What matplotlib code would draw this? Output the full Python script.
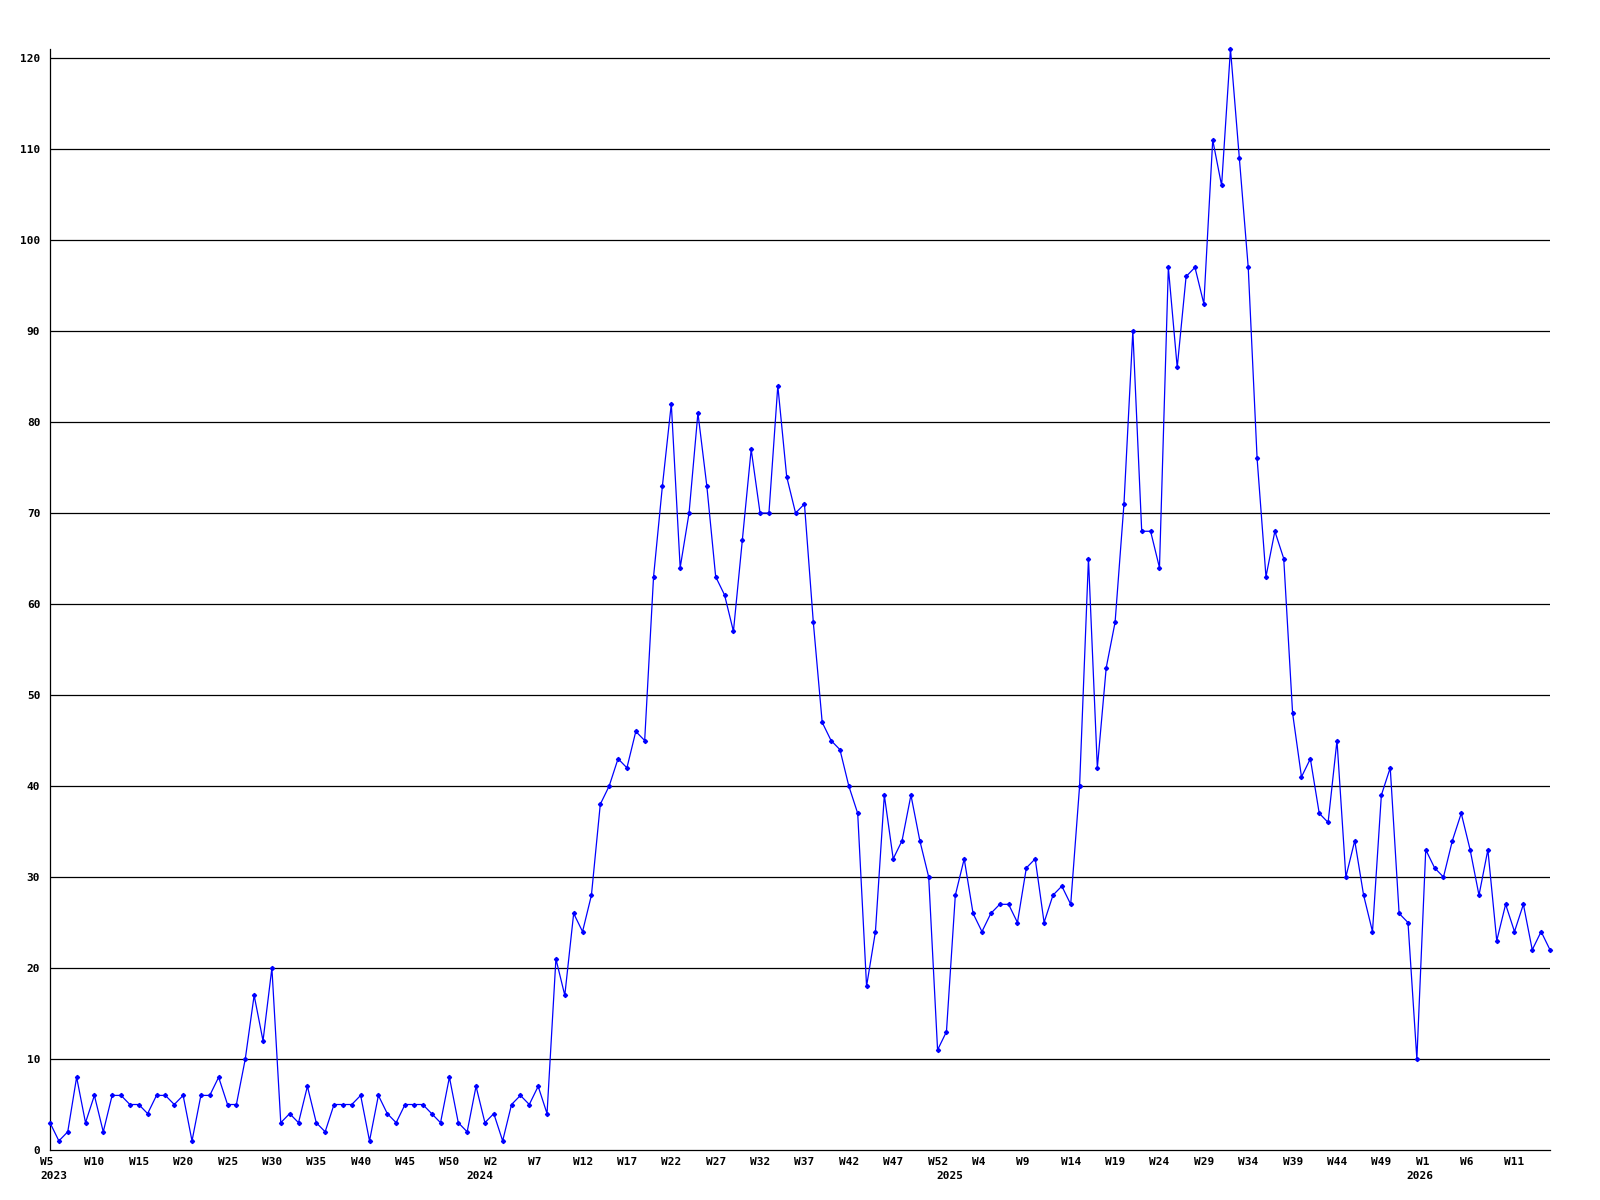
import matplotlib
matplotlib.use("Agg")
import matplotlib.pyplot as plt
from matplotlib.transforms import ScaledTranslation, blended_transform_factory

# weekly values, 2023 W5 .. 2026 W14
counts = [3, 1, 2, 8, 3, 6, 2, 6, 6, 5, 5, 4, 6, 6, 5, 6, 1, 6, 6, 8,
          5, 5, 10, 17, 12, 20, 3, 4, 3, 7, 3, 2, 5, 5, 5, 6, 1, 6, 4, 3,
          5, 5, 5, 4, 3, 8, 3, 2, 7, 3, 4, 1, 5, 6, 5, 7, 4, 21, 17, 26,
          24, 28, 38, 40, 43, 42, 46, 45, 63, 73, 82, 64, 70, 81, 73, 63, 61, 57, 67, 77,
          70, 70, 84, 74, 70, 71, 58, 47, 45, 44, 40, 37, 18, 24, 39, 32, 34, 39, 34, 30,
          11, 13, 28, 32, 26, 24, 26, 27, 27, 25, 31, 32, 25, 28, 29, 27, 40, 65, 42, 53,
          58, 71, 90, 68, 68, 64, 97, 86, 96, 97, 93, 111, 106, 121, 109, 97, 76, 63, 68, 65,
          48, 41, 43, 37, 36, 45, 30, 34, 28, 24, 39, 42, 26, 25, 10, 33, 31, 30, 34, 37,
          33, 28, 33, 23, 27, 24, 27, 22, 24, 22]

# x labels every 5 weeks
week_labels = ["W5", "W10", "W15", "W20", "W25", "W30", "W35", "W40", "W45", "W50",
               "W2", "W7", "W12", "W17", "W22", "W27", "W32", "W37", "W42", "W47", "W52",
               "W4", "W9", "W14", "W19", "W24", "W29", "W34", "W39", "W44", "W49",
               "W1", "W6", "W11"]
years = ["2023", "2024", "2025", "2026"]
year_start = [0, 48, 101, 154]  # index of first week of each year

y_ticks = list(range(0, 121, 10))

font = {"family": "DejaVu Sans Mono", "weight": "bold", "size": 8}

fig = plt.figure(figsize=(16, 12), dpi=100)
ax = fig.add_axes([50 / 1600, 1 - 1150 / 1200, 1500 / 1600, (1150 - 49) / 1200])

x = list(range(len(counts)))
ax.plot(x, counts, color="#0000ff", lw=0.9, marker="D", ms=2.1, mec="#0000ff", mfc="#0000ff",
        zorder=3, clip_on=False)

ax.set_xlim(0, len(counts) - 1)
ax.set_ylim(0, 121)

for v in y_ticks[1:]:
    ax.axhline(v, color="black", lw=0.9, zorder=1)

ax.spines["top"].set_visible(False)
ax.spines["right"].set_visible(False)
ax.spines["left"].set_linewidth(0.9)
ax.spines["bottom"].set_linewidth(0.9)

ax.set_yticks(y_ticks)
ax.set_yticklabels([str(v) for v in y_ticks], **font)
ax.tick_params(axis="y", length=0, pad=7)

ax.set_xticks(range(0, len(counts), 5)[:len(week_labels)])
ax.set_xticklabels(week_labels, ha="left", **font)
ax.tick_params(axis="x", length=0, pad=5)
shift = ScaledTranslation(-10 / 100, 0, fig.dpi_scale_trans)
for lbl in ax.get_xticklabels():
    lbl.set_transform(lbl.get_transform() + shift)

trans = blended_transform_factory(ax.transData, ax.transAxes)
for yr, i in zip(years, year_start):
    ax.text(i, 0, yr, transform=trans + ScaledTranslation(-10 / 100, -21 / 100, fig.dpi_scale_trans),
            ha="left", va="top", **font)

fig.savefig("out.png", dpi=100, facecolor="white")
